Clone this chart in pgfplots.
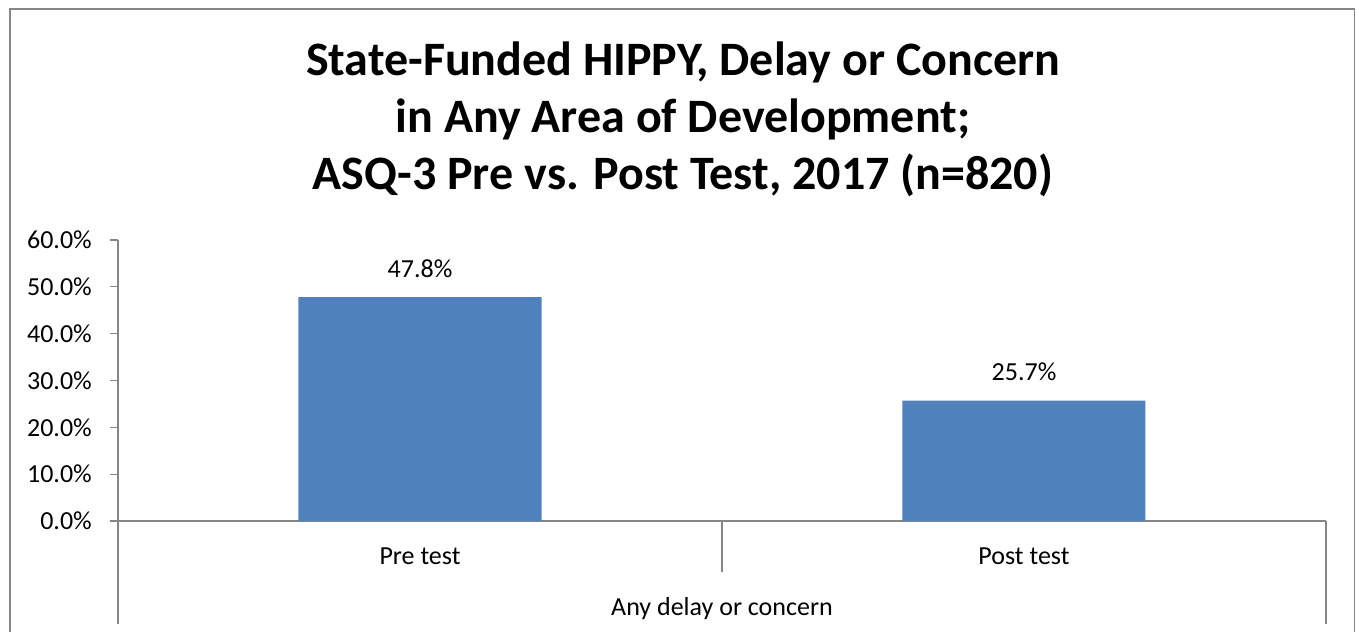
\documentclass[border=0pt]{standalone}
\usepackage{pgfplots}
\pgfplotsset{compat=1.18}
\usepackage{fontspec}
\setmainfont{Carlito}
\definecolor{barblue}{HTML}{4F81BD}
\definecolor{axgray}{HTML}{868686}
\begin{document}
\begin{tikzpicture}[x=1pt,y=1pt]
\useasboundingbox (0,0) rectangle (1356,632);
\draw[axgray, line width=1.6pt] (10,0) -- (10,623) -- (1354.5,623) -- (1354.5,0);
\node[anchor=base, font=\fontsize{48}{48}\selectfont\bfseries, inner sep=0pt] at (683,556) {State-Funded HIPPY, Delay or Concern};
\node[anchor=base, font=\fontsize{48}{48}\selectfont\bfseries, inner sep=0pt] at (683,499) {in Any Area of Development;};
\node[anchor=base, font=\fontsize{48}{48}\selectfont\bfseries, inner sep=0pt] at (683,442) {ASQ-3 Pre vs. Post Test, 2017 (n=820)};
\begin{axis}[
  at={(118pt,111pt)}, anchor=south west,
  width=1208pt, height=281pt, scale only axis,
  xmin=0, xmax=2, ymin=0, ymax=60,
  clip=false,
  axis x line*=bottom, axis y line*=left,
  axis line style={axgray, line width=1.2pt, -},
  ytick={0,10,...,60},
  tick align=outside,
  major tick length=8pt,
  ytick style={axgray, line width=1.2pt},
  xtick={0.5,1.5},
  xticklabels={Pre test, Post test},
  xtick style={draw=none},
  yticklabel={\pgfmathprintnumber[fixed,fixed zerofill,precision=1]{\tick}\%},
  /pgf/number format/assume math mode=true,
  yticklabel style={font=\fontsize{26}{26}\selectfont, inner sep=0pt, xshift=-18pt},
  xticklabel style={font=\fontsize{26}{26}\selectfont, anchor=base, inner sep=0pt, yshift=-35pt},
  ybar, bar width=243pt,
  nodes near coords={\pgfmathprintnumber[fixed,fixed zerofill,precision=1]{\pgfplotspointmeta}\%},
  nodes near coords style={font=\fontsize{26}{26}\selectfont, anchor=base, inner sep=0pt, yshift=20pt},
]
\addplot[fill=barblue, draw=none] coordinates {(0.5,47.8) (1.5,25.7)};
\draw[axgray, line width=1.2pt] (axis cs:1,0) -- ++(0,-51pt);
\draw[axgray, line width=1.2pt] (axis cs:2,0) -- ++(0,-103pt);
\draw[axgray, line width=1.2pt] (axis cs:0,0) -- ++(0,-103pt);
\node[anchor=base, font=\fontsize{26}{26}\selectfont, inner sep=0pt] at (axis cs:1,0) [yshift=-94pt] {Any delay or concern};
\end{axis}
\end{tikzpicture}
\end{document}
